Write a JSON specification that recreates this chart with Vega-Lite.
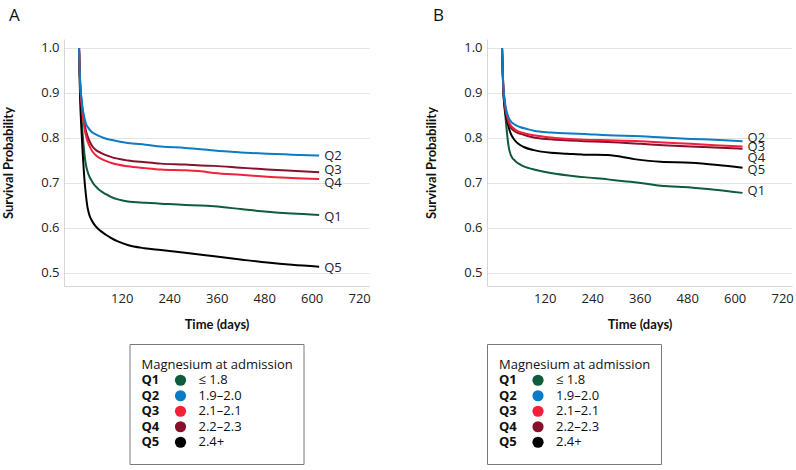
{
  "$schema": "https://vega.github.io/schema/vega-lite/v6.json",
  "padding": {"left": 2, "top": 7, "right": 0, "bottom": 0},
  "config": {
    "view": {"stroke": null},
    "font": "Open Sans",
    "axis": {"labelFont": "Open Sans", "labelFontSize": 13, "labelColor": "#222222", "titleFont": "Lato", "titleFontWeight": "bold", "titleFontSize": 13, "titleColor": "#111111", "ticks": false, "tickSize": 0, "domainColor": "#d6d6d6", "gridColor": "#e4e4e4"}
  },
  "datasets": {
    "curves": [
      {"p":"A","q":"Q1","t":12,"s":1.0},{"p":"A","q":"Q1","t":13.5,"s":0.95},{"p":"A","q":"Q1","t":15,"s":0.91},{"p":"A","q":"Q1","t":18.4,"s":0.844},{"p":"A","q":"Q1","t":21,"s":0.81},{"p":"A","q":"Q1","t":23.4,"s":0.785},{"p":"A","q":"Q1","t":26,"s":0.762},{"p":"A","q":"Q1","t":29.3,"s":0.741},{"p":"A","q":"Q1","t":33,"s":0.727},{"p":"A","q":"Q1","t":37.7,"s":0.715},{"p":"A","q":"Q1","t":44,"s":0.705},{"p":"A","q":"Q1","t":50.4,"s":0.696},{"p":"A","q":"Q1","t":58,"s":0.689},{"p":"A","q":"Q1","t":67,"s":0.682},{"p":"A","q":"Q1","t":80,"s":0.675},{"p":"A","q":"Q1","t":92.5,"s":0.669},{"p":"A","q":"Q1","t":135,"s":0.659},{"p":"A","q":"Q1","t":180,"s":0.656},{"p":"A","q":"Q1","t":219,"s":0.654},{"p":"A","q":"Q1","t":280,"s":0.651},{"p":"A","q":"Q1","t":320,"s":0.65},{"p":"A","q":"Q1","t":354,"s":0.648},{"p":"A","q":"Q1","t":421,"s":0.642},{"p":"A","q":"Q1","t":488,"s":0.636},{"p":"A","q":"Q1","t":550,"s":0.632},{"p":"A","q":"Q1","t":619,"s":0.629},
      {"p":"A","q":"Q5","t":12,"s":1.0},{"p":"A","q":"Q5","t":13,"s":0.95},{"p":"A","q":"Q5","t":15,"s":0.881},{"p":"A","q":"Q5","t":18,"s":0.82},{"p":"A","q":"Q5","t":21,"s":0.77},{"p":"A","q":"Q5","t":25,"s":0.715},{"p":"A","q":"Q5","t":29.3,"s":0.674},{"p":"A","q":"Q5","t":33,"s":0.648},{"p":"A","q":"Q5","t":37.7,"s":0.63},{"p":"A","q":"Q5","t":44,"s":0.617},{"p":"A","q":"Q5","t":50.4,"s":0.608},{"p":"A","q":"Q5","t":58,"s":0.6},{"p":"A","q":"Q5","t":67,"s":0.593},{"p":"A","q":"Q5","t":80,"s":0.585},{"p":"A","q":"Q5","t":92.5,"s":0.578},{"p":"A","q":"Q5","t":110,"s":0.57},{"p":"A","q":"Q5","t":135,"s":0.562},{"p":"A","q":"Q5","t":177,"s":0.555},{"p":"A","q":"Q5","t":219,"s":0.551},{"p":"A","q":"Q5","t":280,"s":0.545},{"p":"A","q":"Q5","t":354,"s":0.537},{"p":"A","q":"Q5","t":420,"s":0.53},{"p":"A","q":"Q5","t":488,"s":0.523},{"p":"A","q":"Q5","t":550,"s":0.518},{"p":"A","q":"Q5","t":619,"s":0.514},
      {"p":"A","q":"Q4","t":12,"s":1.0},{"p":"A","q":"Q4","t":13.5,"s":0.955},{"p":"A","q":"Q4","t":15,"s":0.92},{"p":"A","q":"Q4","t":18.4,"s":0.881},{"p":"A","q":"Q4","t":21,"s":0.86},{"p":"A","q":"Q4","t":25,"s":0.837},{"p":"A","q":"Q4","t":29,"s":0.818},{"p":"A","q":"Q4","t":33.5,"s":0.804},{"p":"A","q":"Q4","t":40,"s":0.79},{"p":"A","q":"Q4","t":46,"s":0.781},{"p":"A","q":"Q4","t":55,"s":0.773},{"p":"A","q":"Q4","t":67,"s":0.767},{"p":"A","q":"Q4","t":92.5,"s":0.758},{"p":"A","q":"Q4","t":135,"s":0.75},{"p":"A","q":"Q4","t":180,"s":0.746},{"p":"A","q":"Q4","t":219,"s":0.743},{"p":"A","q":"Q4","t":280,"s":0.741},{"p":"A","q":"Q4","t":320,"s":0.739},{"p":"A","q":"Q4","t":354,"s":0.738},{"p":"A","q":"Q4","t":420,"s":0.734},{"p":"A","q":"Q4","t":488,"s":0.73},{"p":"A","q":"Q4","t":550,"s":0.727},{"p":"A","q":"Q4","t":619,"s":0.724},
      {"p":"A","q":"Q3","t":12,"s":1.0},{"p":"A","q":"Q3","t":13.5,"s":0.955},{"p":"A","q":"Q3","t":15,"s":0.918},{"p":"A","q":"Q3","t":18.4,"s":0.874},{"p":"A","q":"Q3","t":21,"s":0.852},{"p":"A","q":"Q3","t":25,"s":0.826},{"p":"A","q":"Q3","t":29,"s":0.807},{"p":"A","q":"Q3","t":33.5,"s":0.793},{"p":"A","q":"Q3","t":40,"s":0.779},{"p":"A","q":"Q3","t":46,"s":0.77},{"p":"A","q":"Q3","t":55,"s":0.761},{"p":"A","q":"Q3","t":67,"s":0.754},{"p":"A","q":"Q3","t":92.5,"s":0.745},{"p":"A","q":"Q3","t":135,"s":0.737},{"p":"A","q":"Q3","t":180,"s":0.733},{"p":"A","q":"Q3","t":219,"s":0.73},{"p":"A","q":"Q3","t":280,"s":0.728},{"p":"A","q":"Q3","t":320,"s":0.726},{"p":"A","q":"Q3","t":354,"s":0.722},{"p":"A","q":"Q3","t":420,"s":0.718},{"p":"A","q":"Q3","t":488,"s":0.714},{"p":"A","q":"Q3","t":550,"s":0.711},{"p":"A","q":"Q3","t":619,"s":0.709},
      {"p":"A","q":"Q2","t":12,"s":1.0},{"p":"A","q":"Q2","t":13.5,"s":0.955},{"p":"A","q":"Q2","t":15,"s":0.918},{"p":"A","q":"Q2","t":18,"s":0.89},{"p":"A","q":"Q2","t":21,"s":0.867},{"p":"A","q":"Q2","t":25,"s":0.848},{"p":"A","q":"Q2","t":29,"s":0.833},{"p":"A","q":"Q2","t":35,"s":0.823},{"p":"A","q":"Q2","t":42,"s":0.815},{"p":"A","q":"Q2","t":50,"s":0.81},{"p":"A","q":"Q2","t":59,"s":0.806},{"p":"A","q":"Q2","t":75,"s":0.8},{"p":"A","q":"Q2","t":92.5,"s":0.796},{"p":"A","q":"Q2","t":135,"s":0.789},{"p":"A","q":"Q2","t":180,"s":0.785},{"p":"A","q":"Q2","t":219,"s":0.781},{"p":"A","q":"Q2","t":280,"s":0.778},{"p":"A","q":"Q2","t":320,"s":0.775},{"p":"A","q":"Q2","t":354,"s":0.772},{"p":"A","q":"Q2","t":420,"s":0.768},{"p":"A","q":"Q2","t":488,"s":0.765},{"p":"A","q":"Q2","t":550,"s":0.763},{"p":"A","q":"Q2","t":619,"s":0.761},
      {"p":"B","q":"Q1","t":12,"s":1.0},{"p":"B","q":"Q1","t":13.5,"s":0.95},{"p":"B","q":"Q1","t":15,"s":0.91},{"p":"B","q":"Q1","t":18,"s":0.87},{"p":"B","q":"Q1","t":21,"s":0.844},{"p":"B","q":"Q1","t":25,"s":0.807},{"p":"B","q":"Q1","t":29.3,"s":0.778},{"p":"B","q":"Q1","t":33,"s":0.765},{"p":"B","q":"Q1","t":37.7,"s":0.756},{"p":"B","q":"Q1","t":44,"s":0.75},{"p":"B","q":"Q1","t":50.4,"s":0.745},{"p":"B","q":"Q1","t":58,"s":0.741},{"p":"B","q":"Q1","t":67,"s":0.737},{"p":"B","q":"Q1","t":80,"s":0.733},{"p":"B","q":"Q1","t":92.5,"s":0.73},{"p":"B","q":"Q1","t":135,"s":0.722},{"p":"B","q":"Q1","t":219,"s":0.713},{"p":"B","q":"Q1","t":279,"s":0.708},{"p":"B","q":"Q1","t":320,"s":0.704},{"p":"B","q":"Q1","t":363,"s":0.7},{"p":"B","q":"Q1","t":413,"s":0.694},{"p":"B","q":"Q1","t":489,"s":0.69},{"p":"B","q":"Q1","t":550,"s":0.685},{"p":"B","q":"Q1","t":620,"s":0.678},
      {"p":"B","q":"Q5","t":12,"s":1.0},{"p":"B","q":"Q5","t":13.5,"s":0.955},{"p":"B","q":"Q5","t":15,"s":0.91},{"p":"B","q":"Q5","t":18.4,"s":0.87},{"p":"B","q":"Q5","t":21,"s":0.853},{"p":"B","q":"Q5","t":25,"s":0.837},{"p":"B","q":"Q5","t":29,"s":0.823},{"p":"B","q":"Q5","t":33.5,"s":0.811},{"p":"B","q":"Q5","t":40,"s":0.8},{"p":"B","q":"Q5","t":46,"s":0.793},{"p":"B","q":"Q5","t":55,"s":0.786},{"p":"B","q":"Q5","t":67,"s":0.78},{"p":"B","q":"Q5","t":92.5,"s":0.773},{"p":"B","q":"Q5","t":135,"s":0.767},{"p":"B","q":"Q5","t":177,"s":0.765},{"p":"B","q":"Q5","t":219,"s":0.763},{"p":"B","q":"Q5","t":279,"s":0.762},{"p":"B","q":"Q5","t":346,"s":0.753},{"p":"B","q":"Q5","t":413,"s":0.747},{"p":"B","q":"Q5","t":489,"s":0.745},{"p":"B","q":"Q5","t":557,"s":0.74},{"p":"B","q":"Q5","t":620,"s":0.734},
      {"p":"B","q":"Q4","t":12,"s":1.0},{"p":"B","q":"Q4","t":13.5,"s":0.955},{"p":"B","q":"Q4","t":15,"s":0.918},{"p":"B","q":"Q4","t":18,"s":0.883},{"p":"B","q":"Q4","t":21,"s":0.86},{"p":"B","q":"Q4","t":25,"s":0.845},{"p":"B","q":"Q4","t":29.3,"s":0.831},{"p":"B","q":"Q4","t":35,"s":0.822},{"p":"B","q":"Q4","t":42,"s":0.816},{"p":"B","q":"Q4","t":50,"s":0.812},{"p":"B","q":"Q4","t":58.8,"s":0.809},{"p":"B","q":"Q4","t":75,"s":0.805},{"p":"B","q":"Q4","t":92.5,"s":0.801},{"p":"B","q":"Q4","t":135,"s":0.797},{"p":"B","q":"Q4","t":219,"s":0.793},{"p":"B","q":"Q4","t":280,"s":0.791},{"p":"B","q":"Q4","t":363,"s":0.787},{"p":"B","q":"Q4","t":420,"s":0.784},{"p":"B","q":"Q4","t":489,"s":0.781},{"p":"B","q":"Q4","t":550,"s":0.779},{"p":"B","q":"Q4","t":620,"s":0.776},
      {"p":"B","q":"Q3","t":12,"s":1.0},{"p":"B","q":"Q3","t":13.5,"s":0.955},{"p":"B","q":"Q3","t":15,"s":0.918},{"p":"B","q":"Q3","t":18,"s":0.885},{"p":"B","q":"Q3","t":21,"s":0.863},{"p":"B","q":"Q3","t":25,"s":0.848},{"p":"B","q":"Q3","t":29.3,"s":0.836},{"p":"B","q":"Q3","t":35,"s":0.827},{"p":"B","q":"Q3","t":42,"s":0.821},{"p":"B","q":"Q3","t":50,"s":0.816},{"p":"B","q":"Q3","t":58.8,"s":0.813},{"p":"B","q":"Q3","t":75,"s":0.809},{"p":"B","q":"Q3","t":92.5,"s":0.806},{"p":"B","q":"Q3","t":135,"s":0.801},{"p":"B","q":"Q3","t":219,"s":0.796},{"p":"B","q":"Q3","t":280,"s":0.795},{"p":"B","q":"Q3","t":363,"s":0.793},{"p":"B","q":"Q3","t":420,"s":0.79},{"p":"B","q":"Q3","t":489,"s":0.787},{"p":"B","q":"Q3","t":550,"s":0.784},{"p":"B","q":"Q3","t":620,"s":0.781},
      {"p":"B","q":"Q2","t":12,"s":1.0},{"p":"B","q":"Q2","t":13.5,"s":0.955},{"p":"B","q":"Q2","t":15,"s":0.918},{"p":"B","q":"Q2","t":18,"s":0.89},{"p":"B","q":"Q2","t":21,"s":0.87},{"p":"B","q":"Q2","t":25,"s":0.855},{"p":"B","q":"Q2","t":29.3,"s":0.844},{"p":"B","q":"Q2","t":35,"s":0.836},{"p":"B","q":"Q2","t":42,"s":0.831},{"p":"B","q":"Q2","t":50,"s":0.827},{"p":"B","q":"Q2","t":59,"s":0.824},{"p":"B","q":"Q2","t":75,"s":0.82},{"p":"B","q":"Q2","t":92.5,"s":0.816},{"p":"B","q":"Q2","t":135,"s":0.812},{"p":"B","q":"Q2","t":219,"s":0.809},{"p":"B","q":"Q2","t":280,"s":0.806},{"p":"B","q":"Q2","t":363,"s":0.804},{"p":"B","q":"Q2","t":420,"s":0.801},{"p":"B","q":"Q2","t":489,"s":0.798},{"p":"B","q":"Q2","t":550,"s":0.796},{"p":"B","q":"Q2","t":620,"s":0.793}
    ],
    "labels": [
      {"p":"A","q":"Q2","t":619,"s":0.761},{"p":"A","q":"Q3","t":619,"s":0.728},{"p":"A","q":"Q4","t":619,"s":0.701},{"p":"A","q":"Q1","t":619,"s":0.625},{"p":"A","q":"Q5","t":619,"s":0.512},
      {"p":"B","q":"Q2","t":620,"s":0.8},{"p":"B","q":"Q3","t":620,"s":0.781},{"p":"B","q":"Q4","t":620,"s":0.756},{"p":"B","q":"Q5","t":620,"s":0.728},{"p":"B","q":"Q1","t":620,"s":0.682}
    ],
    "legend": [
      {"q":"Q1","r":"≤ 1.8"},{"q":"Q2","r":"1.9–2.0"},{"q":"Q3","r":"2.1–2.1"},{"q":"Q4","r":"2.2–2.3"},{"q":"Q5","r":"2.4+"}
    ],
    "legendTitle": [{"k":"title","label":"Magnesium at admission"}]
  },
  "columns": 2,
  "spacing": {"row": 58, "column": 118},
  "bounds": "flush",
  "center": true,
  "concat": [
    {
      "width": 305, "height": 247,
      "title": {"text": "A", "anchor": "start", "frame": "group", "font": "Open Sans", "fontSize": 17, "fontWeight": "normal", "color": "#111111", "baseline": "alphabetic", "offset": 1, "dx": -55},
      "layer": [
        {
          "data": {"name": "curves"},
          "transform": [{"filter": "datum.p === 'A'"}],
          "mark": {"type": "line", "strokeWidth": 2, "interpolate": "monotone"},
          "encoding": {
            "x": {"field": "t", "type": "quantitative", "scale": {"domain": [-26, 745], "nice": false, "zero": false},
                  "axis": {"values": [120, 240, 360, 480, 600, 720], "title": "Time (days)", "grid": false, "labelPadding": 6, "titlePadding": 13}},
            "y": {"field": "s", "type": "quantitative", "scale": {"domain": [0.471, 1.02], "nice": false, "zero": false},
                  "axis": {"values": [0.5, 0.6, 0.7, 0.8, 0.9, 1.0], "format": ".1f", "title": "Survival Probability", "grid": true, "labelPadding": 5, "titlePadding": 25}},
            "color": {"field": "q", "type": "nominal", "scale": {"domain": ["Q1","Q2","Q3","Q4","Q5"], "range": ["#0f5c3d","#0a7cc6","#f2203a","#87102a","#000000"]}, "legend": null}
          }
        },
        {
          "data": {"name": "labels"},
          "transform": [{"filter": "datum.p === 'A'"}],
          "mark": {"type": "text", "align": "left", "baseline": "middle", "dx": 5, "fontSize": 13, "font": "Open Sans", "color": "#222222"},
          "encoding": {
            "x": {"field": "t", "type": "quantitative"},
            "y": {"field": "s", "type": "quantitative"},
            "text": {"field": "q", "type": "nominal"}
          }
        }
      ]
    },
    {
      "width": 305, "height": 247,
      "title": {"text": "B", "anchor": "start", "frame": "group", "font": "Open Sans", "fontSize": 17, "fontWeight": "normal", "color": "#111111", "baseline": "alphabetic", "offset": 1, "dx": -54},
      "layer": [
        {
          "data": {"name": "curves"},
          "transform": [{"filter": "datum.p === 'B'"}],
          "mark": {"type": "line", "strokeWidth": 2, "interpolate": "monotone"},
          "encoding": {
            "x": {"field": "t", "type": "quantitative", "scale": {"domain": [-26, 745], "nice": false, "zero": false},
                  "axis": {"values": [120, 240, 360, 480, 600, 720], "title": "Time (days)", "grid": false, "labelPadding": 6, "titlePadding": 13}},
            "y": {"field": "s", "type": "quantitative", "scale": {"domain": [0.471, 1.02], "nice": false, "zero": false},
                  "axis": {"values": [0.5, 0.6, 0.7, 0.8, 0.9, 1.0], "format": ".1f", "title": "Survival Probability", "grid": true, "labelPadding": 5, "titlePadding": 25}},
            "color": {"field": "q", "type": "nominal", "scale": {"domain": ["Q1","Q2","Q3","Q4","Q5"], "range": ["#0f5c3d","#0a7cc6","#f2203a","#87102a","#000000"]}, "legend": null}
          }
        },
        {
          "data": {"name": "labels"},
          "transform": [{"filter": "datum.p === 'B'"}],
          "mark": {"type": "text", "align": "left", "baseline": "middle", "dx": 5, "fontSize": 13, "font": "Open Sans", "color": "#222222"},
          "encoding": {
            "x": {"field": "t", "type": "quantitative"},
            "y": {"field": "s", "type": "quantitative"},
            "text": {"field": "q", "type": "nominal"}
          }
        }
      ]
    },
    {
      "width": 174, "height": 120,
      "view": {"stroke": "#7a7a7a", "strokeWidth": 1},
      "layer": [
        {
          "data": {"name": "legendTitle"},
          "mark": {"type": "text", "align": "left", "baseline": "middle", "fontSize": 13, "font": "Open Sans", "color": "#111111"},
          "encoding": {
            "x": {"datum": 12, "type": "quantitative", "scale": {"domain": [0, 174], "nice": false, "zero": false}, "axis": null},
            "y": {"field": "k", "type": "nominal", "scale": {"type": "point", "domain": ["title","Q1","Q2","Q3","Q4","Q5"], "range": [13, 106]}, "axis": null},
            "text": {"field": "label", "type": "nominal"}
          }
        },
        {
          "data": {"name": "legend"},
          "mark": {"type": "text", "align": "left", "baseline": "middle", "fontSize": 13, "font": "Open Sans", "fontWeight": "bold", "color": "#111111"},
          "encoding": {
            "x": {"datum": 12, "type": "quantitative"},
            "y": {"field": "q", "type": "nominal"},
            "text": {"field": "q", "type": "nominal"}
          }
        },
        {
          "data": {"name": "legend"},
          "mark": {"type": "point", "filled": true, "size": 125, "opacity": 1},
          "encoding": {
            "x": {"datum": 51, "type": "quantitative"},
            "y": {"field": "q", "type": "nominal"},
            "color": {"field": "q", "type": "nominal", "scale": {"domain": ["Q1","Q2","Q3","Q4","Q5"], "range": ["#0f5c3d","#0a7cc6","#f2203a","#87102a","#000000"]}, "legend": null}
          }
        },
        {
          "data": {"name": "legend"},
          "mark": {"type": "text", "align": "left", "baseline": "middle", "fontSize": 13, "font": "Open Sans", "color": "#111111"},
          "encoding": {
            "x": {"datum": 69, "type": "quantitative"},
            "y": {"field": "q", "type": "nominal"},
            "text": {"field": "r", "type": "nominal"}
          }
        }
      ]
    },
    {
      "width": 174, "height": 120,
      "view": {"stroke": "#7a7a7a", "strokeWidth": 1},
      "layer": [
        {
          "data": {"name": "legendTitle"},
          "mark": {"type": "text", "align": "left", "baseline": "middle", "fontSize": 13, "font": "Open Sans", "color": "#111111"},
          "encoding": {
            "x": {"datum": 12, "type": "quantitative", "scale": {"domain": [0, 174], "nice": false, "zero": false}, "axis": null},
            "y": {"field": "k", "type": "nominal", "scale": {"type": "point", "domain": ["title","Q1","Q2","Q3","Q4","Q5"], "range": [13, 106]}, "axis": null},
            "text": {"field": "label", "type": "nominal"}
          }
        },
        {
          "data": {"name": "legend"},
          "mark": {"type": "text", "align": "left", "baseline": "middle", "fontSize": 13, "font": "Open Sans", "fontWeight": "bold", "color": "#111111"},
          "encoding": {
            "x": {"datum": 12, "type": "quantitative"},
            "y": {"field": "q", "type": "nominal"},
            "text": {"field": "q", "type": "nominal"}
          }
        },
        {
          "data": {"name": "legend"},
          "mark": {"type": "point", "filled": true, "size": 125, "opacity": 1},
          "encoding": {
            "x": {"datum": 51, "type": "quantitative"},
            "y": {"field": "q", "type": "nominal"},
            "color": {"field": "q", "type": "nominal", "scale": {"domain": ["Q1","Q2","Q3","Q4","Q5"], "range": ["#0f5c3d","#0a7cc6","#f2203a","#87102a","#000000"]}, "legend": null}
          }
        },
        {
          "data": {"name": "legend"},
          "mark": {"type": "text", "align": "left", "baseline": "middle", "fontSize": 13, "font": "Open Sans", "color": "#111111"},
          "encoding": {
            "x": {"datum": 69, "type": "quantitative"},
            "y": {"field": "q", "type": "nominal"},
            "text": {"field": "r", "type": "nominal"}
          }
        }
      ]
    }
  ]
}
